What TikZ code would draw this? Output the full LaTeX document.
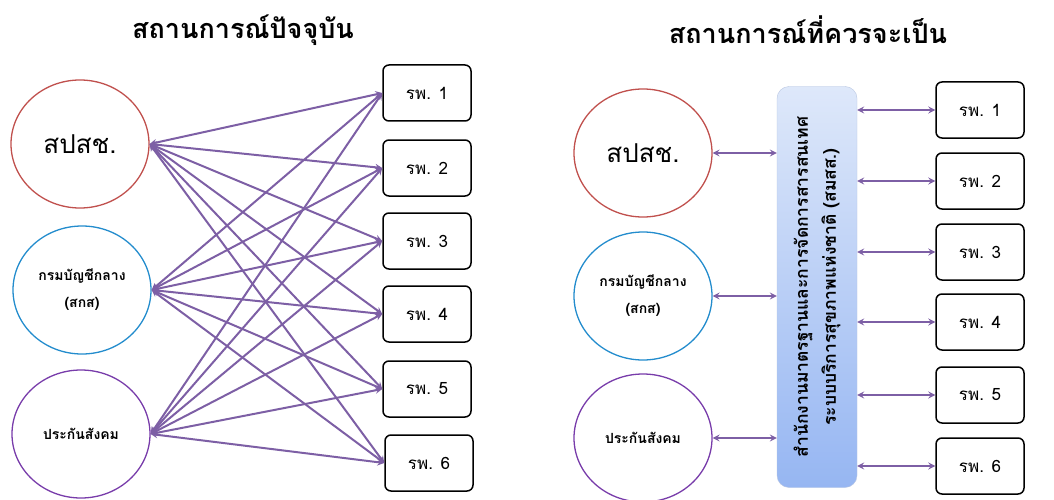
\documentclass[tikz,border=0pt]{standalone}
\usepackage{fontspec}
\newfontfamily\thaifont[Script=Thai]{Loma}
\usetikzlibrary{shapes,arrows,positioning}
\definecolor{orgred}{RGB}{192,80,77}
\definecolor{orgblue}{RGB}{35,140,205}
\definecolor{orgpurple}{RGB}{120,60,170}
\definecolor{linkpurple}{RGB}{125,95,165}
\definecolor{hublight}{RGB}{222,232,250}
\definecolor{hubdark}{RGB}{150,182,242}
\definecolor{hubedge}{RGB}{185,198,225}

\begin{document}
\begin{tikzpicture}[x=1pt, y=-1pt, >=stealth, font=\thaifont,
  org/.style={ellipse, draw, line width=1.3pt, minimum width=138pt, minimum height=128pt, align=center},
  hosp/.style={rectangle, draw, rounded corners=6pt, line width=1.5pt, minimum width=88pt, minimum height=56pt, font=\thaifont\fontsize{17}{20}\selectfont},
  link/.style={<->, draw=linkpurple, line width=2pt},
  heading/.style={font=\thaifont\bfseries\fontsize{27}{30}\selectfont}]
\useasboundingbox (0,0) rectangle (1054,500);

% Titles
\node[heading] (titleL) at (243,30) {สถานการณ์ปัจจุบัน};
\node[heading] (titleR) at (808,30) {สถานการณ์ที่ควรจะเป็น};

% Current situation
\node[org, draw=orgred, font=\thaifont\fontsize{26}{30}\selectfont] (Lsps) at (80,144) {สปสช.};
\node[org, draw=orgblue, font=\thaifont\bfseries\fontsize{14}{27}\selectfont] (Lcgd) at (82,290) {กรมบัญชีกลาง\\(สกส)};
\node[org, draw=orgpurple, font=\thaifont\bfseries\fontsize{14}{16}\selectfont] (Lsso) at (81,434) {ประกันสังคม};

\node[hosp] (Lh1) at (427,93) {รพ. 1};
\node[hosp] (Lh2) at (427,168) {รพ. 2};
\node[hosp] (Lh3) at (427,241) {รพ. 3};
\node[hosp] (Lh4) at (427,314) {รพ. 4};
\node[hosp] (Lh5) at (427,389) {รพ. 5};
\node[hosp] (Lh6) at (429,463) {รพ. 6};

\foreach \o in {sps,cgd,sso}
  \foreach \h in {1,...,6}
    \draw[link] (L\o.east) -- (Lh\h.west);

% Desired situation
\node[org, draw=orgred, font=\thaifont\fontsize{26}{30}\selectfont] (Rsps) at (643,153) {สปสช.};
\node[org, draw=orgblue, font=\thaifont\bfseries\fontsize{14}{27}\selectfont] (Rcgd) at (643,296) {กรมบัญชีกลาง\\(สกส)};
\node[org, draw=orgpurple, font=\thaifont\bfseries\fontsize{14}{16}\selectfont] (Rsso) at (643,438) {ประกันสังคม};

\node[rectangle, draw=hubedge, rounded corners=12pt, rotate=90, minimum width=401pt, minimum height=80pt,
  top color=hublight, bottom color=hubdark, align=center, font=\thaifont\bfseries\fontsize{17.5}{28}\selectfont]
  (hub) at (817,287) {สำนักงานมาตรฐานและการจัดการสารสนเทศ\\ระบบบริการสุขภาพแห่งชาติ (สมสส.)};

\node[hosp] (Rh1) at (980,110) {รพ. 1};
\node[hosp] (Rh2) at (980,181) {รพ. 2};
\node[hosp] (Rh3) at (980,252) {รพ. 3};
\node[hosp] (Rh4) at (980,322) {รพ. 4};
\node[hosp] (Rh5) at (980,395) {รพ. 5};
\node[hosp] (Rh6) at (980,466) {รพ. 6};

\foreach \o in {sps,cgd,sso}
  \draw[link] (R\o.east) -- (R\o.east -| hub.north);
\foreach \h in {1,...,6}
  \draw[link] (Rh\h.west -| hub.south) -- (Rh\h.west);
\end{tikzpicture}
\end{document}
